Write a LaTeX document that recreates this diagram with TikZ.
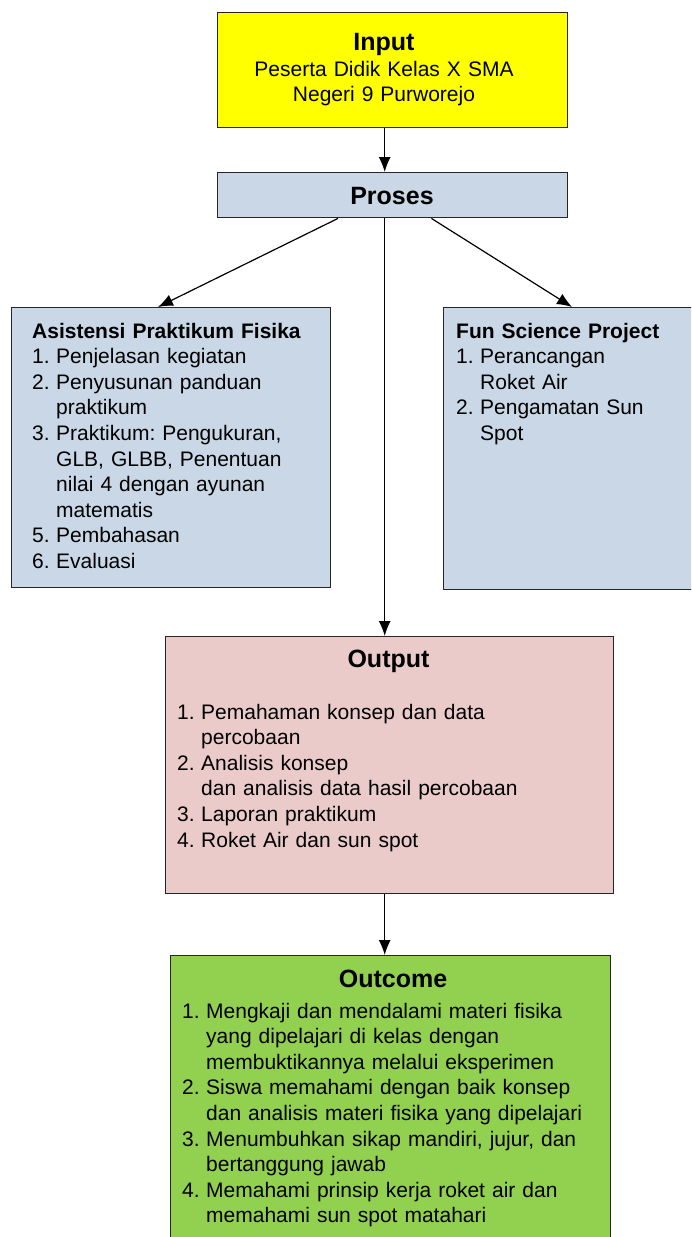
\documentclass[tikz,border=0pt]{standalone}
\usepackage{fontspec}
\setmainfont{Liberation Sans}
\usetikzlibrary{arrows.meta,positioning}

\definecolor{inyellow}{HTML}{FFFF00}
\definecolor{prosblue}{HTML}{C9D7E6}
\definecolor{outpink}{HTML}{EACBCA}
\definecolor{outcgreen}{HTML}{92D050}

\newcommand{\nr}[1]{\makebox[24pt][l]{#1}}
\newcommand{\ind}{\hspace*{24pt}}
\frenchspacing

\begin{document}
\begin{tikzpicture}[
  x=1pt, y=-1pt,
  box/.style={rectangle, draw=black!85, line width=1.4pt, anchor=north west, inner sep=0pt},
  ttl/.style={anchor=base, inner sep=0pt, font=\fontsize{25}{30}\selectfont\bfseries},
  lst/.style={anchor=base west, inner sep=0pt, align=left, text width=#1, font=\fontsize{21}{25.6}\selectfont},
  arw/.style={-{Latex[length=15pt,width=12pt]}, line width=1.2pt}
  ]

\useasboundingbox (0,0) rectangle (691,1237);
\clip (0,0) rectangle (691,1237);

% input

\node [box, fill=inyellow, minimum width=350pt, minimum height=115pt] (input) at (217,12) {};
\node [ttl] (inputT) at (384,50) {Input};
\node [lst=320pt, align=center, anchor=base] (inputB) at (384,76) {Peserta Didik Kelas X SMA\\ Negeri 9 Purworejo};

% proses

\node [box, fill=prosblue, minimum width=350pt, minimum height=45pt] (proses) at (217,172) {};
\node [ttl] (prosesT) at (392,204) {Proses};

\draw [arw] ([xshift=-8pt]input.south) -- ([xshift=-8pt]proses.north);

% two activities

\node [box, fill=prosblue, minimum width=319pt, minimum height=280pt] (asis) at (11,307) {};
\node [lst=290pt] (asisT) at (32,338) {\textbf{Asistensi Praktikum Fisika}\\
  \nr{1.}Penjelasan kegiatan\\
  \nr{2.}Penyusunan panduan\\
  \ind praktikum\\
  \nr{3.}Praktikum: Pengukuran,\\
  \ind GLB, GLBB, Penentuan\\
  \ind nilai 4 dengan ayunan\\
  \ind matematis\\
  \nr{5.}Pembahasan\\
  \nr{6.}Evaluasi};

\node [box, fill=prosblue, minimum width=300pt, minimum height=282pt] (fun) at (443,307) {};
\node [lst=230pt] (funT) at (456,338) {\textbf{Fun Science Project}\\
  \nr{1.}Perancangan\\
  \ind Roket Air\\
  \nr{2.}Pengamatan Sun\\
  \ind Spot};

\draw [arw] ([xshift=121pt]proses.south west) -- ([xshift=147pt]asis.north west);
\draw [arw] ([xshift=-137pt]proses.south east) -- ([xshift=129pt]fun.north west);

% output

\node [box, fill=outpink, minimum width=448pt, minimum height=257pt] (outp) at (165,636) {};
\node [ttl] (outpT) at (388.5,667) {Output};
\node [lst=420pt] (outpL) at (177,719) {\nr{1.}Pemahaman konsep dan data\\
  \ind percobaan\\
  \nr{2.}Analisis konsep\\
  \ind dan analisis data hasil percobaan\\
  \nr{3.}Laporan praktikum\\
  \nr{4.}Roket Air dan sun spot};

\draw [arw] ([xshift=-8pt]proses.south) -- ([xshift=-5pt]outp.north);

% outcome

\node [box, fill=outcgreen, minimum width=440pt, minimum height=300pt] (outc) at (170,955) {};
\node [ttl] (outcT) at (393,987) {Outcome};
\node [lst=420pt] (outcL) at (182,1018) {\nr{1.}Mengkaji dan mendalami materi fisika\\
  \ind yang dipelajari di kelas dengan\\
  \ind membuktikannya melalui eksperimen\\
  \nr{2.}Siswa memahami dengan baik konsep\\
  \ind dan analisis materi fisika yang dipelajari\\
  \nr{3.}Menumbuhkan sikap mandiri, jujur, dan\\
  \ind bertanggung jawab\\
  \nr{4.}Memahami prinsip kerja roket air dan\\
  \ind memahami sun spot matahari};

\draw [arw] ([xshift=-5pt]outp.south) -- ([xshift=-6pt]outc.north);

\end{tikzpicture}
\end{document}
